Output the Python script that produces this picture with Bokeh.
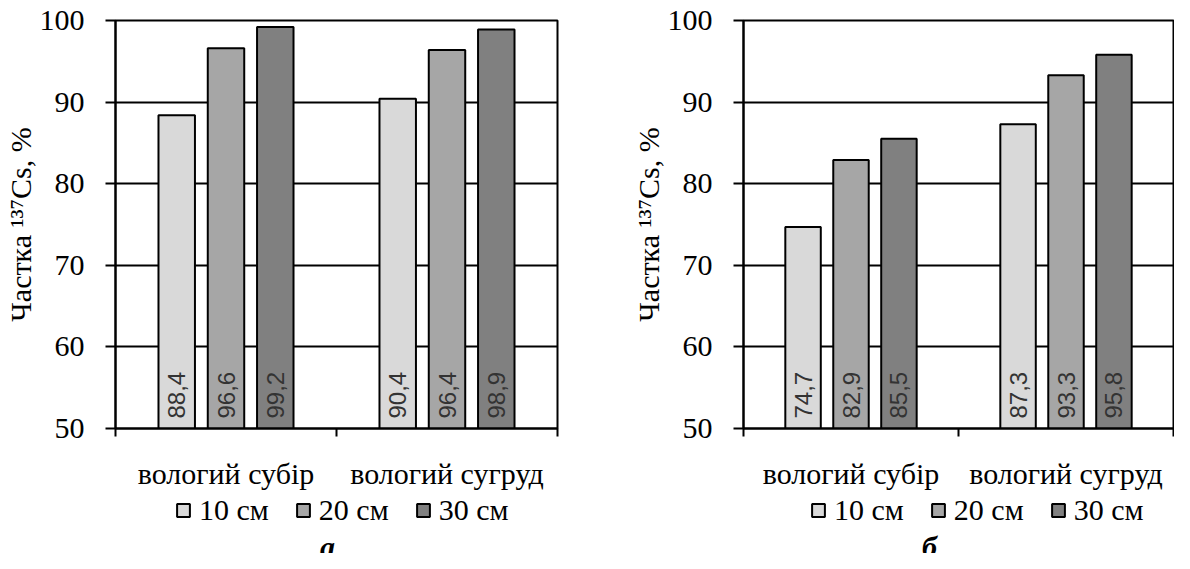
import numpy as np
from bokeh.plotting import figure
from bokeh.models import (Range1d, FixedTicker, Legend, LegendItem, Label,
                          ColumnDataSource)
from bokeh.transform import dodge
from bokeh.layouts import row, column
from bokeh.core.properties import value
from bokeh.embed import file_html
from bokeh.resources import INLINE

# ---------------- data ----------------
categories = ["вологий субір", "вологий сугруд"]
depth_labels = ["10 см", "20 см", "30 см"]
depth_colors = ["#d9d9d9", "#a6a6a6", "#808080"]

a_10cm = [88.4, 90.4]
a_20cm = [96.6, 96.4]
a_30cm = [99.2, 98.9]

b_10cm = [74.7, 87.3]
b_20cm = [82.9, 93.3]
b_30cm = [85.5, 95.8]

y_ticks = [50, 60, 70, 80, 90, 100]
y_min, y_max = 50, 100
y_title = "Частка ¹³⁷Cs, %"
captions = ["а", "б"]

# ---------------- style ----------------
SERIF = "Liberation Serif"
SANS = "Liberation Sans"
BAR_W = 0.165
OFFSETS = [-0.223, 0.0, 0.223]
CHART_H = 492
LEG_H = 61
LEFT_B = 111


def fmt(v):
    return f"{v:.1f}".replace(".", ",")


def make_chart(series, width, border_right):
    n = len(categories)
    centers = [i + 0.5 for i in range(n)]
    edges = list(range(n + 1))
    p = figure(x_range=Range1d(0, n), y_range=Range1d(y_min, y_max),
               width=width, height=CHART_H, output_backend="svg",
               toolbar_location=None,
               min_border_left=LEFT_B, min_border_right=border_right,
               min_border_top=20, min_border_bottom=60,
               background_fill_color="white", border_fill_color="white")
    p.outline_line_color = "black"
    p.outline_line_width = 2
    p.xgrid.visible = False

    # y axis
    yax = p.yaxis[0]
    yax.ticker = FixedTicker(ticks=y_ticks)
    yax.axis_label = y_title
    yax.axis_label_text_font = SERIF
    yax.axis_label_text_font_size = "30px"
    yax.axis_label_text_font_style = "normal"
    yax.axis_label_text_color = "black"
    yax.axis_label_standoff = 0
    yax.major_label_text_font = SERIF
    yax.major_label_text_font_size = "30px"
    yax.major_label_text_color = "black"
    yax.major_label_standoff = 21
    yax.major_tick_in = 0
    yax.major_tick_out = 10
    yax.minor_tick_in = 0
    yax.minor_tick_out = 0
    yax.axis_line_width = 2
    yax.axis_line_color = "black"
    yax.major_tick_line_width = 2
    yax.major_tick_line_color = "black"

    p.ygrid.grid_line_color = "black"
    p.ygrid.grid_line_width = 2

    # x axis: labels at category centres, ticks at category boundaries
    xax = p.xaxis[0]
    xax.ticker = FixedTicker(ticks=centers, minor_ticks=edges)
    xax.major_label_overrides = dict(zip(centers, categories))
    xax.major_tick_in = 0
    xax.major_tick_out = 0
    xax.minor_tick_in = 0
    xax.minor_tick_out = 8
    xax.minor_tick_line_width = 2
    xax.minor_tick_line_color = "black"
    xax.axis_line_width = 2
    xax.axis_line_color = "black"
    xax.major_label_standoff = 20
    xax.major_label_text_font = SERIF
    xax.major_label_text_font_size = "30px"
    xax.major_label_text_color = "black"

    # bars + value labels
    data = dict(xc=centers)
    for i, vals in enumerate(series):
        data[f"v{i}"] = vals
        data[f"t{i}"] = [fmt(v) for v in vals]
    src = ColumnDataSource(data)

    for i, col in enumerate(depth_colors):
        xs = dodge("xc", OFFSETS[i])
        p.vbar(x=xs, top=f"v{i}", bottom=y_min, width=BAR_W, source=src,
               fill_color=col, line_color="black", line_width=2)
        p.text(x=xs, y=y_min, text=f"t{i}", source=src, angle=np.pi / 2,
               text_align="left", text_baseline="middle",
               x_offset=0, y_offset=-10,
               text_font=value(SANS), text_font_size="24px",
               text_color="#333333")
    return p


def make_legend_strip(width, border_right, legend_x, caption, caption_x):
    f = figure(width=width, height=LEG_H, x_range=Range1d(0, 1),
               y_range=Range1d(0, 1), output_backend="svg",
               toolbar_location=None, x_axis_location=None,
               y_axis_location=None,
               min_border_left=LEFT_B, min_border_right=border_right,
               min_border_top=0, min_border_bottom=0,
               background_fill_color="white", border_fill_color="white")
    f.outline_line_color = None
    f.xgrid.visible = False
    f.ygrid.visible = False

    items = []
    for lab, col in zip(depth_labels, depth_colors):
        swatch = ColumnDataSource(dict(x=np.array([np.nan]), top=np.array([np.nan])))
        r = f.vbar(x="x", top="top", width=0.1, source=swatch, fill_color=col,
                   line_color="black", line_width=2)
        items.append(LegendItem(label=lab, renderers=[r]))

    legend = Legend(items=items, orientation="horizontal",
                    location=(legend_x, 26),
                    border_line_color=None, background_fill_alpha=0,
                    padding=0, margin=0, spacing=26, label_standoff=8,
                    glyph_width=16, glyph_height=16,
                    label_text_font=SERIF, label_text_font_size="30px",
                    label_text_color="black")
    f.add_layout(legend, "center")

    f.add_layout(Label(x=caption_x, y=7, x_units="screen", y_units="screen",
                       text=caption, text_align="center",
                       text_baseline="alphabetic",
                       text_font=SERIF, text_font_size="30px",
                       text_font_style="bold italic", text_color="black"))
    return f


p1 = make_chart([a_10cm, a_20cm, a_30cm], 628, 71)
p2 = make_chart([b_10cm, b_20cm, b_30cm], 546, 1)
l1 = make_legend_strip(628, 71, 60, captions[0], 212)
l2 = make_legend_strip(546, 1, 67, captions[1], 186)
layout = row(column(p1, l1), column(p2, l2))

open("out.html", "w").write(file_html(layout, INLINE))
